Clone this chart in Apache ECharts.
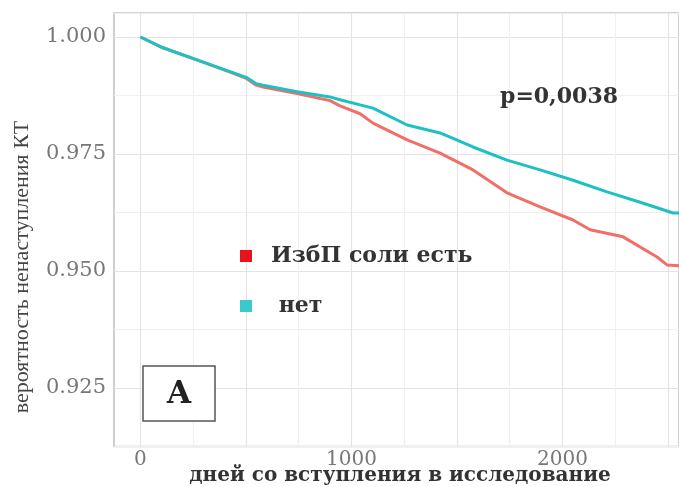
<!DOCTYPE html>
<html>
<head>
<meta charset="utf-8">
<script src="https://cdn.jsdelivr.net/npm/echarts@6/dist/echarts.min.js"></script>
<style>html,body{margin:0;padding:0;background:#fff}#c{width:679px;height:487px}</style>
</head>
<body>
<div id="c"></div>
<script>
// ---- data ----
const seriesNames = ['ИзбП соли есть', 'нет'];
const daysRed  = [0, 107, 268, 425, 505, 545, 581, 742, 898, 946, 1041, 1102, 1264, 1420, 1576, 1737, 1894, 2050, 2131, 2287, 2448, 2495, 2552];
const survRed  = [1.0, 0.9977, 0.9951, 0.9925, 0.9911, 0.9898, 0.9893, 0.9879, 0.9864, 0.9853, 0.9836, 0.9816, 0.9780, 0.9752, 0.9716, 0.9667, 0.9637, 0.9609, 0.9588, 0.9573, 0.9530, 0.9513, 0.9511];
const daysCyan = [0, 107, 268, 425, 505, 545, 581, 742, 898, 946, 1041, 1102, 1264, 1420, 1576, 1737, 1894, 2050, 2211, 2368, 2524, 2552];
const survCyan = [1.0, 0.9977, 0.9951, 0.9926, 0.9913, 0.9901, 0.9897, 0.9883, 0.9872, 0.9866, 0.9855, 0.9848, 0.9812, 0.9795, 0.9765, 0.9737, 0.9716, 0.9694, 0.9669, 0.9647, 0.9624, 0.9624];
const yTickLabels = ['0.925', '0.950', '0.975', '1.000'];
const xTickLabels = ['0', '1000', '2000'];
const pText = 'p=0,0038';
const panelLetter = 'A';
const xTitle = 'дней со вступления в исследование';
const yTitle = 'вероятность ненаступления КТ';

const lineColors = ['#f06f69', '#1ec0c2'];
const keyColors = ['#e8141b', '#3cc9cc'];

const zip = (a, b) => a.map((v, i) => [v, b[i]]);

const chart = echarts.init(document.getElementById('c'), null, {renderer: 'canvas'});
const serif = 'DejaVu Serif';
const option = {
  animation: false,
  backgroundColor: '#ffffff',
  grid: {left: 114, right: 0, top: 13, bottom: 40.5, show: true, borderColor: '#c4c4c4', borderWidth: 1.6, backgroundColor: '#fff'},
  xAxis: {
    type: 'value', min: -125, max: 2552, interval: 125,
    axisLine: {show: false}, axisTick: {show: false},
    axisLabel: {
      color: '#777', fontFamily: serif, fontSize: 20, margin: 3,
      showMinLabel: true, showMaxLabel: false,
      formatter: v => { const s = String(Math.round(v)); return xTickLabels.includes(s) ? s : ''; }
    },
    splitLine: {show: true, lineStyle: {color: ['rgba(0,0,0,0)', '#e4e4e4', 'rgba(0,0,0,0)', '#f0f0f0'], width: 1.2}}
  },
  yAxis: {
    type: 'value', min: 0.9125, max: 1.00513, interval: 0.0125,
    axisLine: {show: false}, axisTick: {show: false},
    axisLabel: {
      color: '#777', fontFamily: serif, fontSize: 21, margin: 8,
      showMaxLabel: false,
      formatter: v => { const s = v.toFixed(3); return yTickLabels.includes(s) ? s : ''; }
    },
    splitLine: {show: true, lineStyle: {color: ['#f0f0f0', '#e4e4e4'], width: 1.2}}
  },
  legend: {
    orient: 'vertical', left: 240, top: 243, padding: 0, itemGap: 24, selectedMode: false,
    itemWidth: 12, itemHeight: 12,
    textStyle: {fontFamily: serif, fontSize: 22, fontWeight: 'bold', color: '#333', lineHeight: 26, padding: [0, 0, 0, 14]},
    formatter: n => n === seriesNames[1] ? ' ' + n : n,
    data: [
      {name: seriesNames[0], icon: 'rect', itemStyle: {color: keyColors[0], borderWidth: 0}},
      {name: seriesNames[1], icon: 'rect', itemStyle: {color: keyColors[1], borderWidth: 0}}
    ]
  },
  series: [
    {name: seriesNames[0], type: 'line', data: zip(daysRed, survRed), showSymbol: false, symbol: 'none',
     lineStyle: {color: lineColors[0], width: 3}, itemStyle: {color: lineColors[0]}, z: 2},
    {name: seriesNames[1], type: 'line', data: zip(daysCyan, survCyan), showSymbol: false, symbol: 'none',
     lineStyle: {color: lineColors[1], width: 3}, itemStyle: {color: lineColors[1]}, z: 3}
  ],
  graphic: [
    {type: 'text', x: 500, y: 97, z: 10, style: {text: pText, font: 'bold 22px "DejaVu Serif"', fill: '#333', verticalAlign: 'middle'}},
    {type: 'rect', shape: {x: 143, y: 366, width: 72, height: 55}, z: 10, style: {fill: '#fff', stroke: '#555', lineWidth: 1.5}},
    {type: 'text', x: 179, y: 395, z: 11, style: {text: panelLetter, font: 'bold 31px "DejaVu Serif"', fill: '#222', align: 'center', verticalAlign: 'middle'}},
    {type: 'text', x: 400, y: 476, z: 10, style: {text: xTitle, font: 'bold 20px "DejaVu Serif"', fill: '#333', align: 'center', verticalAlign: 'middle'}},
    {type: 'text', x: 22, y: 267, rotation: Math.PI / 2, z: 10, style: {text: yTitle, font: '22px "Liberation Serif"', fill: '#444', align: 'center', verticalAlign: 'middle'}}
  ]
};
chart.setOption(option);
</script>
</body>
</html>
